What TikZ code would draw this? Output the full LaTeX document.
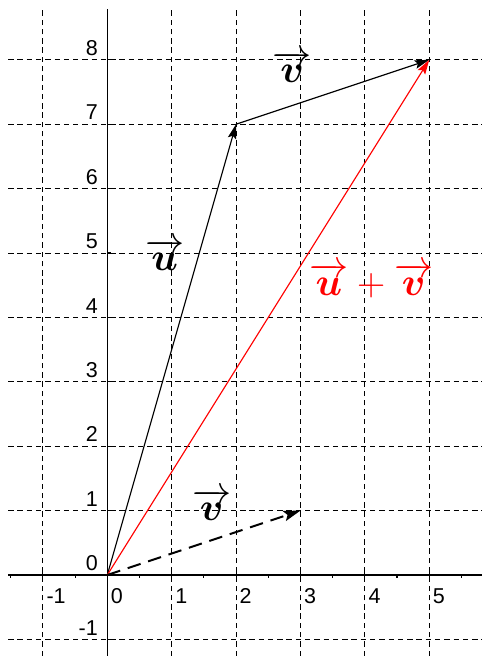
\documentclass[tikz,border=0pt]{standalone}
\usepackage{amsmath}
\usepackage{fontspec}
\newfontfamily\ticksans{Liberation Sans}
\usepackage{tikz}
\usetikzlibrary{arrows.meta}
\definecolor{vecred}{RGB}{255,0,0}

\begin{document}
\begin{tikzpicture}[>={Stealth[length=6.5pt,width=3.8pt,inset=1.2pt]},
 gridline/.style={black, line width=0.45pt, dash pattern=on 2.4pt off 1.7pt},
 axis/.style={black, line width=0.5pt},
 vecline/.style={->, black, line width=0.5pt},
 ticklabel/.style={font=\ticksans\fontsize{9.5}{11}\selectfont, inner sep=0pt},
 veclabel/.style={font=\fontsize{19}{22}\selectfont, inner sep=0pt}]
\useasboundingbox (-1.666,-1.258) rectangle (5.818,8.929);
% grid
\foreach \x in {-1,...,5} \draw[gridline] (\x,-1.258) -- (\x,8.8);
\foreach \y in {-1,...,8} \draw[gridline] (-1.54,\y) -- (5.818,\y);
% axes
\draw[axis] (-1.54,0) -- (5.818,0);
\draw[axis] (0,-1.258) -- (0,8.79);
\foreach \x in {-1,...,5} \draw[axis] (\x,0.05) -- (\x,-0.05);
\foreach \x in {-1.5,-0.5,...,5.5} \draw[axis] (\x,0) -- (\x,-0.045);
\foreach \y in {-1,...,8} \draw[axis] (0,\y) -- (0.05,\y);
\foreach \x in {-1,...,5} \node[ticklabel, anchor=north west] (xl\x) at (\x+0.05,-0.2) {\x};
\foreach \y in {-1,...,8} \node[ticklabel, anchor=south east] (yl\y) at (-0.14,\y+0.06) {\y};
% vectors
\coordinate (O) at (0,0);
\coordinate (U) at (2,7);
\coordinate (S) at (5,8);
\coordinate (V) at (3,1);
\draw[vecline] (O) -- (U);
\draw[vecline] (U) -- (S);
\draw[vecline, vecred] (O) -- (S);
\draw[-{Stealth[length=7.5pt,width=4.6pt,inset=1.5pt]}, black, line width=0.9pt, dash pattern=on 6pt off 3.5pt] (O) -- (V);
% labels
\node[veclabel] (lu) at (0.89,4.97) {$\overrightarrow{\boldsymbol{u}}$};
\node[veclabel] (lv) at (2.87,7.89) {$\overrightarrow{\boldsymbol{v}}$};
\node[veclabel, text=vecred] (lsum) at (4.10,4.57) {$\overrightarrow{\boldsymbol{u}}+\overrightarrow{\boldsymbol{v}}$};
\node[veclabel] (lv2) at (1.62,1.09) {$\overrightarrow{\boldsymbol{v}}$};
\end{tikzpicture}
\end{document}
